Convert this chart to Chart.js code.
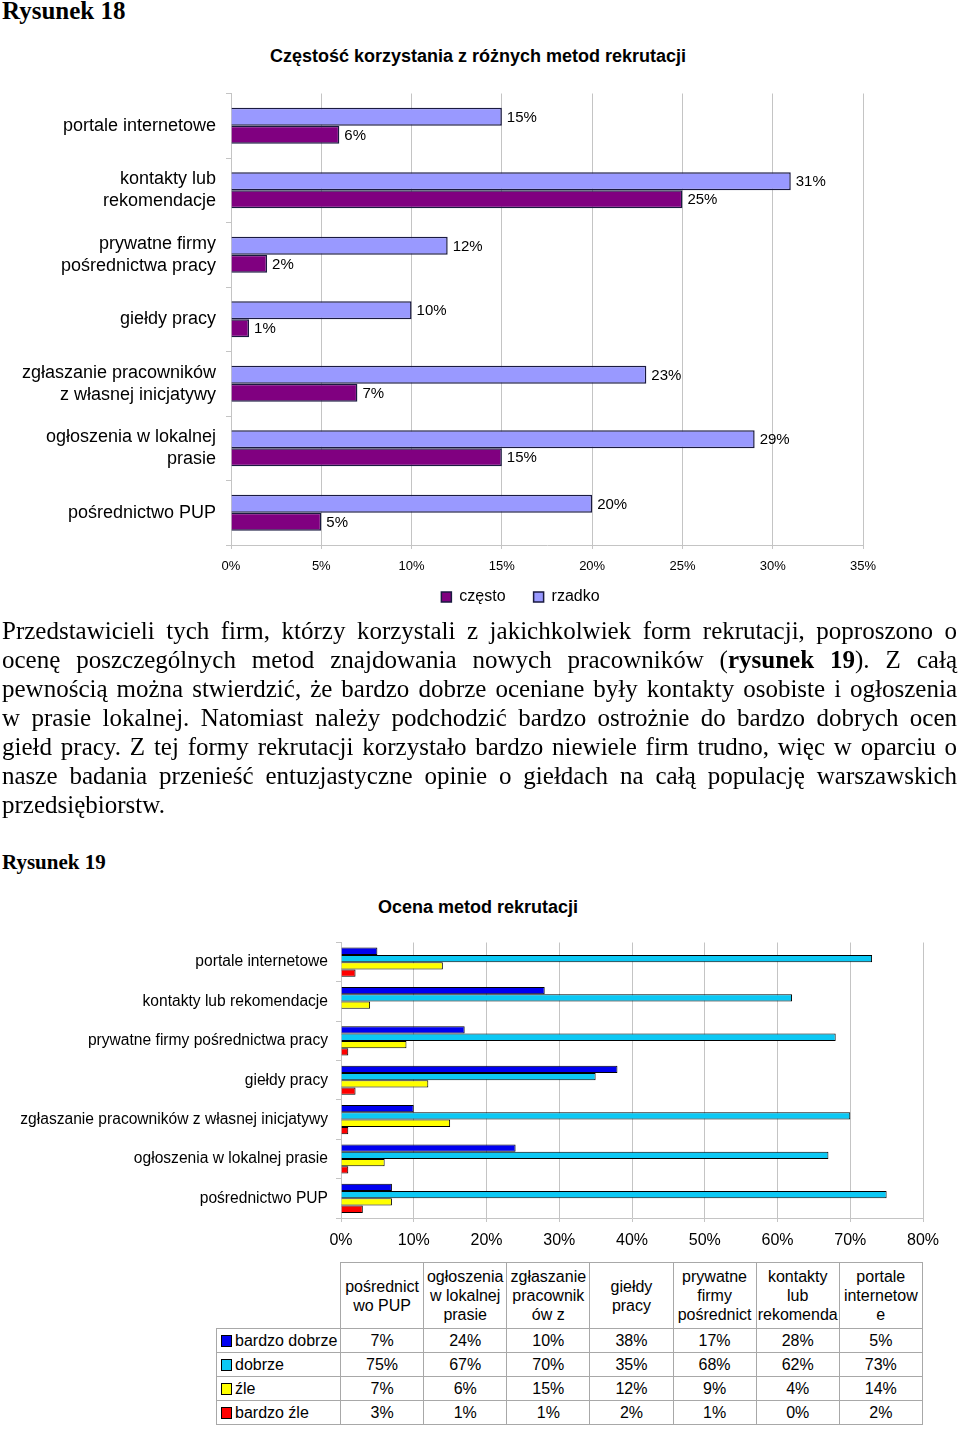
<!DOCTYPE html>
<html>
<head>
<meta charset="utf-8">
<script src="https://cdn.jsdelivr.net/npm/chart.js@4.4.0/dist/chart.umd.min.js"></script>
<style>
body { margin:0; background:#fff; width:960px; height:1429px; position:relative; overflow:hidden;
       font-family:"Liberation Sans", Arial, sans-serif; color:#000; }
.rys { position:absolute; left:2px; margin:0; font-family:"Liberation Serif", "Times New Roman", serif; font-weight:bold; }
.tytul { position:absolute; left:0; width:956px; text-align:center; font-weight:bold; font-size:18px; line-height:18px; }
.box { position:absolute; }
#tekst { position:absolute; left:2px; top:616px; width:955px; font-family:"Liberation Serif", "Times New Roman", serif;
         font-size:25px; line-height:29px; }
#tekst div { text-align:justify; text-align-last:justify; white-space:nowrap; }
#tekst div.ost { text-align-last:left; }
#tabela { position:absolute; left:216px; top:1262px; border-collapse:collapse; table-layout:fixed; font-size:16px; }
#tabela td { border:1px solid #a8a8a8; padding:0; text-align:center; }
#tabela tr.nagl td { height:65px; line-height:19px; vertical-align:middle; }
#tabela tr.wiersz td { height:23px; line-height:23px; }
#tabela td.pusta { border-top:none; border-left:none; }
#tabela td.opis { text-align:left; padding-left:4px; white-space:nowrap; }
.kw { display:inline-block; width:9px; height:10px; border:1px solid #000; margin-right:3px; vertical-align:-1px; }
</style>
</head>
<body>

<div class="rys" style="top:-2px;font-size:25px;line-height:25px;">Rysunek 18</div>
<div class="tytul" style="top:47px;">Częstość korzystania z różnych metod rekrutacji</div>
<div class="box" style="left:0;top:85px;width:960px;height:549px;"><canvas id="wykres1"></canvas></div>

<div id="tekst">
<div>Przedstawicieli tych firm, którzy korzystali z jakichkolwiek form rekrutacji, poproszono o</div>
<div>ocenę poszczególnych metod znajdowania nowych pracowników (<b>rysunek 19</b>). Z całą</div>
<div>pewnością można stwierdzić, że bardzo dobrze oceniane były kontakty osobiste i ogłoszenia</div>
<div>w prasie lokalnej. Natomiast należy podchodzić bardzo ostrożnie do bardzo dobrych ocen</div>
<div>giełd pracy. Z tej formy rekrutacji korzystało bardzo niewiele firm trudno, więc w oparciu o</div>
<div>nasze badania przenieść entuzjastyczne opinie o giełdach na całą populację warszawskich</div>
<div class="ost">przedsiębiorstw.</div>
</div>

<div class="rys" style="top:852px;font-size:21px;line-height:21px;">Rysunek 19</div>
<div class="tytul" style="top:898px;">Ocena metod rekrutacji</div>
<div class="box" style="left:0;top:930px;width:960px;height:328px;"><canvas id="wykres2"></canvas></div>

<table id="tabela"></table>

<script>
// Rysunek 18 - kategorie od gory do dolu
var metody18 = ['portale internetowe', ['kontakty lub', 'rekomendacje'], ['prywatne firmy', 'pośrednictwa pracy'],
    'giełdy pracy', ['zgłaszanie pracowników', 'z własnej inicjatywy'], ['ogłoszenia w lokalnej', 'prasie'], 'pośrednictwo PUP'];
var czesto = [6, 25, 2, 1, 7, 15, 5];
var rzadko = [15, 31, 12, 10, 23, 29, 20];
var ticki18 = [0, 5, 10, 15, 20, 25, 30, 35];

// Rysunek 19 - kolejnosc jak w tabeli (w wykresie od dolu)
var metody19 = ['pośrednictwo PUP', 'ogłoszenia w lokalnej prasie', 'zgłaszanie pracowników z własnej inicjatywy',
    'giełdy pracy', 'prywatne firmy pośrednictwa pracy', 'kontakty lub rekomendacje', 'portale internetowe'];
var naglowki19 = [['pośrednict', 'wo PUP'], ['ogłoszenia', 'w lokalnej', 'prasie'], ['zgłaszanie', 'pracownik', 'ów z'],
    ['giełdy', 'pracy'], ['prywatne', 'firmy', 'pośrednict'], ['kontakty', 'lub', 'rekomenda'], ['portale', 'internetow', 'e']];
var bardzoDobrze = [7, 24, 10, 38, 17, 28, 5];
var dobrze = [75, 67, 70, 35, 68, 62, 73];
var zle = [7, 6, 15, 12, 9, 4, 14];
var bardzoZle = [3, 1, 1, 2, 1, 0, 2];
var ticki19 = [0, 10, 20, 30, 40, 50, 60, 70, 80];

Chart.defaults.font.family = '"Liberation Sans", Arial, sans-serif';
Chart.defaults.color = '#000';

// etykiety z wartosciami przy koncach slupkow
var etykiety = {
    id: 'etykiety',
    afterDatasetsDraw: function (chart) {
        var ctx = chart.ctx;
        ctx.save();
        ctx.font = '15px "Liberation Sans", Arial, sans-serif';
        ctx.fillStyle = '#000';
        ctx.textBaseline = 'middle';
        chart.data.datasets.forEach(function (ds, i) {
            chart.getDatasetMeta(i).data.forEach(function (bar, j) {
                ctx.fillText(ds.data[j] + '%', bar.x + 5, bar.y + 1);
            });
        });
        ctx.restore();
    }
};

// legenda w oryginale jest troche na prawo od srodka i blizej osi
var przesunLegende = {
    id: 'przesunLegende',
    afterLayout: function (chart) {
        chart.legend.left += 89;
        chart.legend.right += 89;
        chart.legend.top -= 19;
        chart.legend.bottom -= 19;
    }
};

var siatka = '#c4c4c4';

new Chart(document.getElementById('wykres1'), {
    type: 'bar',
    data: {
        labels: metody18,
        datasets: [
            { label: 'rzadko', data: rzadko, backgroundColor: '#9999ff', borderColor: '#1a1a40', borderWidth: 1.5 },
            { label: 'często', data: czesto, backgroundColor: '#800080', borderColor: '#1a1a40', borderWidth: 1.5 }
        ]
    },
    plugins: [etykiety, przesunLegende],
    options: {
        indexAxis: 'y',
        responsive: true,
        maintainAspectRatio: false,
        animation: false,
        devicePixelRatio: 1,
        categoryPercentage: 0.557,
        barPercentage: 1,
        layout: { padding: { top: 8.5, right: 97, left: 0, bottom: 0 } },
        scales: {
            x: {
                min: 0, max: 35,
                afterBuildTicks: function (s) { s.ticks = ticki18.map(function (v) { return { value: v }; }); },
                afterFit: function (s) { s.height = 35; },
                ticks: { font: { size: 13 }, padding: 10, callback: function (v) { return v + '%'; } },
                grid: { color: siatka, tickLength: 4 },
                border: { color: siatka }
            },
            y: {
                afterFit: function (s) { s.width = 231; s.paddingTop = 0; s.paddingBottom = 0; },
                ticks: { font: { size: 18, lineHeight: 1.22 }, padding: 10 },
                grid: { drawOnChartArea: false, color: siatka, tickLength: 5, offset: true },
                border: { color: siatka }
            }
        },
        plugins: {
            legend: {
                position: 'bottom',
                reverse: true,
                labels: { boxWidth: 10, boxHeight: 10, font: { size: 16 }, padding: 28, color: '#000' }
            },
            tooltip: { enabled: false }
        }
    }
});

new Chart(document.getElementById('wykres2'), {
    type: 'bar',
    data: {
        labels: metody19.slice().reverse(),
        datasets: [
            { label: 'bardzo dobrze', data: bardzoDobrze.slice().reverse(), backgroundColor: '#0000f0', borderColor: '#000', borderWidth: 1 },
            { label: 'dobrze', data: dobrze.slice().reverse(), backgroundColor: '#0cc8f4', borderColor: '#000', borderWidth: 1 },
            { label: 'źle', data: zle.slice().reverse(), backgroundColor: '#ffff00', borderColor: '#000', borderWidth: 1 },
            { label: 'bardzo źle', data: bardzoZle.slice().reverse(), backgroundColor: '#ff0000', borderColor: '#000', borderWidth: 1 }
        ]
    },
    options: {
        indexAxis: 'y',
        responsive: true,
        maintainAspectRatio: false,
        animation: false,
        devicePixelRatio: 1,
        categoryPercentage: 0.74,
        barPercentage: 1,
        layout: { padding: { top: 12.5, right: 37, left: 0, bottom: 0 } },
        scales: {
            x: {
                min: 0, max: 80,
                afterBuildTicks: function (s) { s.ticks = ticki19.map(function (v) { return { value: v }; }); },
                afterFit: function (s) { s.height = 40; },
                ticks: { font: { size: 16 }, padding: 9, callback: function (v) { return v + '%'; } },
                grid: { color: siatka, tickLength: 4 },
                border: { color: siatka }
            },
            y: {
                afterFit: function (s) { s.width = 341; s.paddingTop = 0; s.paddingBottom = 0; },
                ticks: { font: { size: 15.6 }, padding: 8 },
                grid: { drawOnChartArea: false, color: siatka, tickLength: 5, offset: true },
                border: { color: siatka }
            }
        },
        plugins: { legend: { display: false }, tooltip: { enabled: false } }
    }
});

// tabela danych pod wykresem 19
var serie = [
    { nazwa: 'bardzo dobrze', kolor: '#0000f0', dane: bardzoDobrze },
    { nazwa: 'dobrze', kolor: '#0cc8f4', dane: dobrze },
    { nazwa: 'źle', kolor: '#ffff00', dane: zle },
    { nazwa: 'bardzo źle', kolor: '#ff0000', dane: bardzoZle }
];
var html = '<colgroup><col style="width:124px">';
for (var c = 0; c < naglowki19.length; c++) html += '<col style="width:83.14px">';
html += '</colgroup><tr class="nagl"><td class="pusta"></td>';
naglowki19.forEach(function (n) { html += '<td>' + n.join('<br>') + '</td>'; });
html += '</tr>';
serie.forEach(function (s) {
    html += '<tr class="wiersz"><td class="opis"><span class="kw" style="background:' + s.kolor + '"></span>' + s.nazwa + '</td>';
    s.dane.forEach(function (v) { html += '<td>' + v + '%</td>'; });
    html += '</tr>';
});
document.getElementById('tabela').innerHTML = html;
</script>
</body>
</html>
